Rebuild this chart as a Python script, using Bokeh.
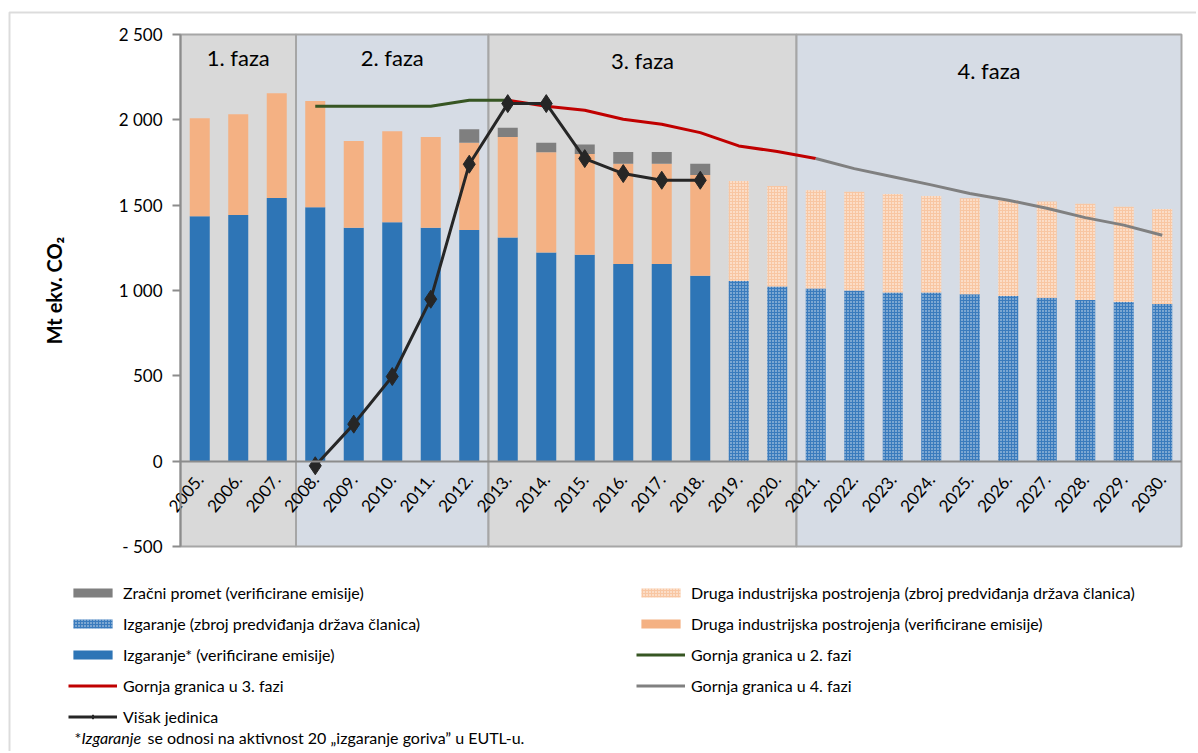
from bokeh.plotting import figure
from bokeh.models import (Range1d, FixedTicker, Legend, LegendItem, Label,
                          BoxAnnotation, ColumnDataSource)
from bokeh.core.properties import value
from bokeh.embed import file_html
from bokeh.resources import INLINE

FONT = "Lato"

# ---------------- data ----------------
years_ver = list(range(2005, 2019))
izgaranje_ver = [1435, 1443, 1542, 1488, 1367, 1400, 1367, 1355, 1310, 1222, 1209, 1156, 1156, 1087]
druga_ver = [575, 590, 614, 623, 509, 533, 533, 511, 590, 588, 591, 586, 586, 590]
years_air = list(range(2012, 2019))
zracni_ver = [79, 54, 56, 55, 70, 70, 66]

years_proj = list(range(2019, 2031))
izgaranje_proj = [1056, 1023, 1011, 1000, 988, 988, 978, 968, 957, 945, 933, 921]
druga_proj = [586, 590, 577, 578, 578, 566, 563, 561, 564, 564, 557, 557]

cap2_years = [2008, 2009, 2010, 2011, 2012, 2013]
cap2 = [2080, 2080, 2080, 2080, 2115, 2115]
cap3_years = list(range(2013, 2022))
cap3 = [2115, 2080, 2056, 2003, 1974, 1925, 1847, 1814, 1773]
cap4_years = list(range(2021, 2031))
cap4 = [1773, 1714, 1667, 1619, 1568, 1529, 1482, 1427, 1383, 1324]
visak_years = list(range(2008, 2019))
visak = [-27, 217, 496, 949, 1740, 2095, 2095, 1773, 1685, 1646, 1646]

phase_names = ["1. faza", "2. faza", "3. faza", "4. faza"]
phase_first = [2005, 2008, 2013, 2021]
phase_last = [2007, 2012, 2020, 2030]

all_years = list(range(2005, 2031))
x_tick_labels = [f"{y}." for y in all_years]
y_ticks = [-500, 0, 500, 1000, 1500, 2000, 2500]
y_tick_labels = ["- 500", "0", "500", "1 000", "1 500", "2 000", "2 500"]

# ---------------- layout / styles ----------------
W, H = 1196, 751
PLOT_L, PLOT_T, PLOT_W, PLOT_H = 180, 34, 1001, 512   # chart area in pixels
Y_MIN, Y_MAX = -500, 2500
X_MIN, X_MAX = all_years[0] - 0.5, all_years[-1] + 0.5
ppx = PLOT_W / (X_MAX - X_MIN)
ppy = PLOT_H / (Y_MAX - Y_MIN)

C_BLUE = "#2e75b6"
C_ORANGE = "#f4b183"
C_GRAY = "#7f7f7f"
C_GREEN = "#375623"
C_RED = "#c00000"
C_LINE4 = "#808080"
C_BLACK = "#262626"
C_AXIS = "#8c8c8c"
PHASE_FILL = ["#d9d9d9", "#d6dce5", "#d9d9d9", "#d6dce5"]
PHASE_LABEL_Y = [2363, 2363, 2346, 2287]
BAR_W = 0.52

p = figure(width=W, height=H, output_backend="svg", toolbar_location=None,
           x_range=Range1d(X_MIN - PLOT_L / ppx, X_MAX + (W - PLOT_L - PLOT_W) / ppx),
           y_range=Range1d(Y_MIN - (H - PLOT_T - PLOT_H) / ppy, Y_MAX + PLOT_T / ppy),
           min_border=0)
p.outline_line_color = None
p.xgrid.visible = False
p.ygrid.visible = False
p.background_fill_color = "white"
p.border_fill_color = "white"

# outer frame of the figure (left + top edge)
p.add_layout(BoxAnnotation(left=9, right=W + 50, top=H - 12, bottom=-50,
                           left_units="screen", right_units="screen",
                           top_units="screen", bottom_units="screen",
                           fill_alpha=0, line_color=C_AXIS, line_width=2, level="underlay"))

# phase backgrounds
ph = ColumnDataSource(dict(
    left=[f - 0.5 for f in phase_first], right=[l + 0.5 for l in phase_last],
    fill=PHASE_FILL, xc=[(f + l) / 2 for f, l in zip(phase_first, phase_last)],
    yl=PHASE_LABEL_Y, name=phase_names))
p.quad(left="left", right="right", bottom=Y_MIN, top=Y_MAX, fill_color="fill",
       line_color="#a6a6a6", line_width=2, source=ph)
p.text(x="xc", y="yl", text="name", source=ph, text_font=value(FONT),
       text_font_size="22px", text_align="center", text_baseline="middle", text_color="#000000")

# verified bars
dr_top = [a + b for a, b in zip(izgaranje_ver, druga_ver)]
r_izv = p.vbar(x=years_ver, bottom=0, top=izgaranje_ver, width=BAR_W, fill_color=C_BLUE, line_color=None)
r_drv = p.vbar(x=years_ver, bottom=izgaranje_ver, top=dr_top, width=BAR_W, fill_color=C_ORANGE, line_color=None)
air_bottom = [dr_top[years_ver.index(y)] for y in years_air]
air_top = [b + z for b, z in zip(air_bottom, zracni_ver)]
r_air = p.vbar(x=years_air, bottom=air_bottom, top=air_top, width=BAR_W, fill_color=C_GRAY, line_color=None)

# projected bars (patterned)
drp_top = [a + b for a, b in zip(izgaranje_proj, druga_proj)]
r_izp = p.vbar(x=years_proj, bottom=0, top=izgaranje_proj, width=BAR_W, fill_color="#3a7bbd",
               line_color=None, hatch_pattern="dot", hatch_color="#dfe8f3", hatch_scale=3, hatch_weight=1.2)
r_drp = p.vbar(x=years_proj, bottom=izgaranje_proj, top=drp_top, width=BAR_W, fill_color="#f8c6a2",
               line_color=None, hatch_pattern="dot", hatch_color="#ffffff", hatch_scale=3, hatch_weight=1.0)

# caps and surplus
r_c2 = p.line(cap2_years, cap2, line_color=C_GREEN, line_width=3)
r_c3 = p.line(cap3_years, cap3, line_color=C_RED, line_width=3)
r_c4 = p.line(cap4_years, cap4, line_color=C_LINE4, line_width=3)
r_vl = p.line(visak_years, visak, line_color=C_BLACK, line_width=3)
r_vm = p.scatter(visak_years, visak, marker="diamond", size=18, fill_color=C_BLACK, line_color=C_BLACK)

# axes (placed at fixed data locations inside the frame)
xa = p.xaxis[0]
xa.ticker = FixedTicker(ticks=all_years)
xa.major_label_overrides = dict(zip(all_years, x_tick_labels))
xa.fixed_location = 0
xa.bounds = (X_MIN, X_MAX)
xa.major_label_orientation = 0.87
xa.major_label_text_font = FONT
xa.major_label_text_font_size = "17px"
xa.major_label_text_color = "#000000"
xa.major_label_standoff = 15
xa.major_tick_line_color = None
xa.major_tick_out = 0
xa.major_tick_in = 0
xa.minor_tick_line_color = None
xa.axis_line_color = C_AXIS
xa.axis_line_width = 2

ya = p.yaxis[0]
ya.ticker = FixedTicker(ticks=y_ticks)
ya.major_label_overrides = dict(zip(y_ticks, y_tick_labels))
ya.fixed_location = X_MIN
ya.bounds = (Y_MIN, Y_MAX)
ya.major_label_text_font = FONT
ya.major_label_text_font_size = "17px"
ya.major_label_text_color = "#000000"
ya.major_label_standoff = 10
ya.major_tick_out = 8
ya.major_tick_in = 0
ya.major_tick_line_color = C_AXIS
ya.major_tick_line_width = 2
ya.minor_tick_line_color = None
ya.axis_line_color = C_AXIS
ya.axis_line_width = 2
ya.axis_label = "Mt ekv. CO₂"
ya.axis_label_text_font = FONT
ya.axis_label_text_font_style = "bold"
ya.axis_label_text_font_size = "20px"
ya.axis_label_text_color = "#000000"
ya.axis_label_standoff = 50

# legends (positions in screen pixels from the bottom-left of the canvas)
common = dict(glyph_width=49, glyph_height=11, label_height=20, label_standoff=6, spacing=11,
              padding=0, margin=0, border_line_color=None, background_fill_alpha=0,
              label_text_font=FONT, label_text_font_size="16px", label_text_color="#000000")
leg_l = Legend(items=[
    LegendItem(label="Zračni promet (verificirane emisije)", renderers=[r_air]),
    LegendItem(label="Izgaranje (zbroj predviđanja država članica)", renderers=[r_izp]),
    LegendItem(label="Izgaranje* (verificirane emisije)", renderers=[r_izv]),
    LegendItem(label="Gornja granica u 3. fazi", renderers=[r_c3]),
    LegendItem(label="Višak jedinica", renderers=[r_vl, r_vm]),
], location=(68, H - 726), **common)
leg_r = Legend(items=[
    LegendItem(label="Druga industrijska postrojenja (zbroj predviđanja država članica)", renderers=[r_drp]),
    LegendItem(label="Druga industrijska postrojenja (verificirane emisije)", renderers=[r_drv]),
    LegendItem(label="Gornja granica u 2. fazi", renderers=[r_c2]),
    LegendItem(label="Gornja granica u 4. fazi", renderers=[r_c4]),
], location=(636, H - 695), **common)
p.add_layout(leg_l)
p.add_layout(leg_r)

# footnote
fn = dict(x_units="screen", y_units="screen", y=H - 737, text_font=FONT, text_font_size="16px",
          text_baseline="middle", text_color="#000000")
p.add_layout(Label(x=74, text="*", **fn))
p.add_layout(Label(x=81, text="Izgaranje", text_font_style="italic", **fn))
p.add_layout(Label(x=147, text="se odnosi na aktivnost 20 \u201eizgaranje goriva\u201d u EUTL-u.", **fn))

open("out.html", "w").write(file_html(p, INLINE))
